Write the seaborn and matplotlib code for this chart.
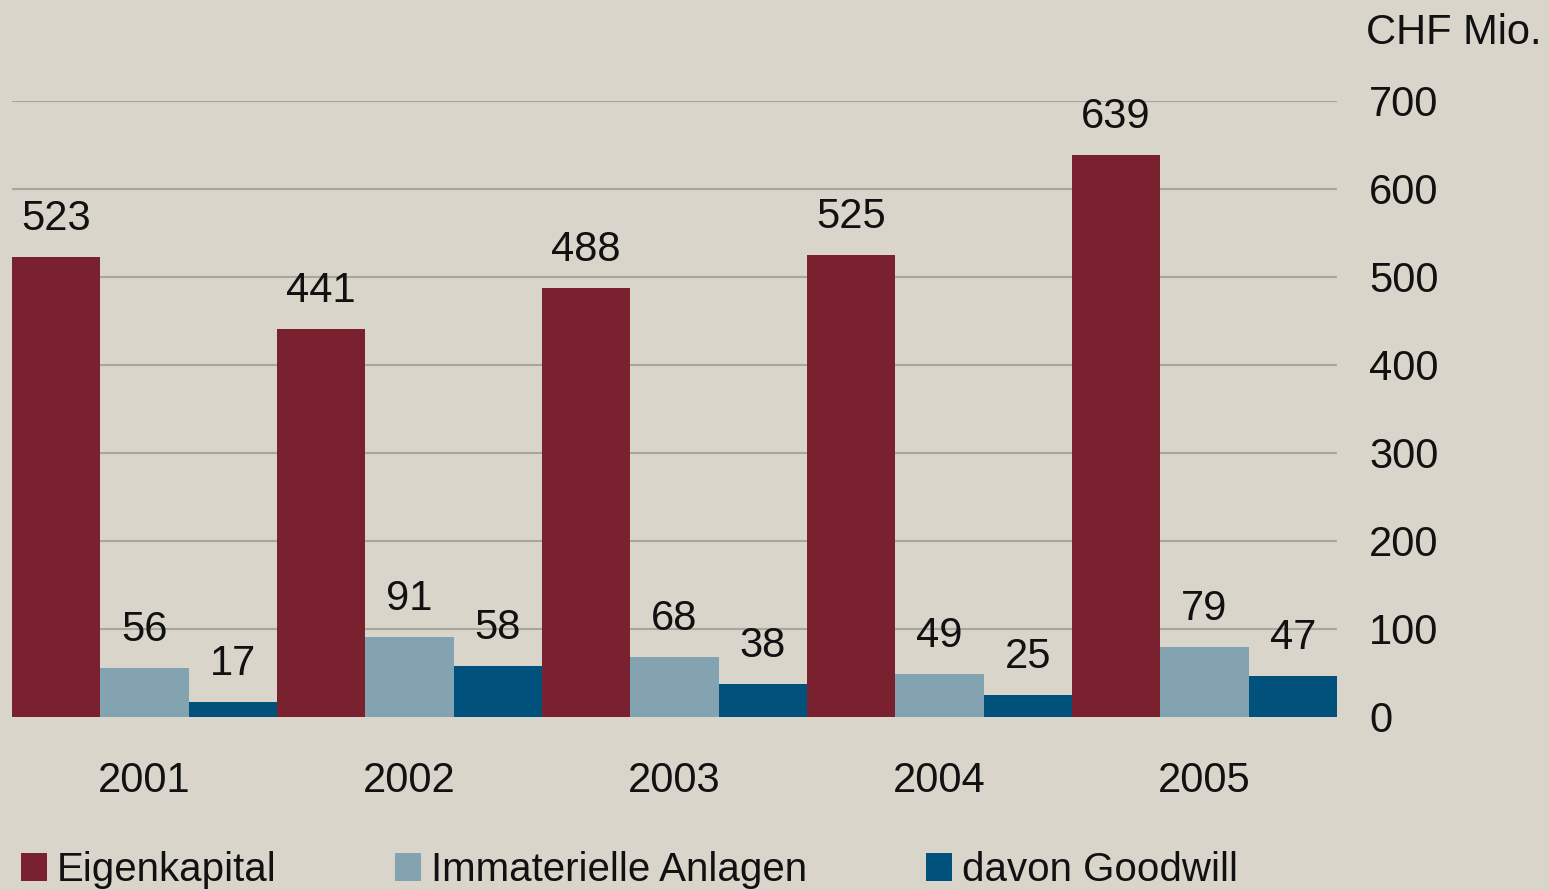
import matplotlib
matplotlib.use("Agg")
import matplotlib.pyplot as plt
import seaborn as sns
import pandas as pd

years = ["2001", "2002", "2003", "2004", "2005"]
eigenkapital = [523, 441, 488, 525, 639]
immaterielle = [56, 91, 68, 49, 79]
goodwill = [17, 58, 38, 25, 47]
series_names = ["Eigenkapital", "Immaterielle Anlagen", "davon Goodwill"]
y_ticks = [0, 100, 200, 300, 400, 500, 600, 700]
unit_label = "CHF Mio."

colors = ["#7A2130", "#84A3B0", "#00527C"]
bg = "#D9D5CB"
grid_color = "#A9A69C"

df = pd.DataFrame({
    "Jahr": years * 3,
    "Wert": eigenkapital + immaterielle + goodwill,
    "Serie": [s for s in series_names for _ in years],
})

sns.set_theme(style="white")
plt.rcParams["font.family"] = ["Liberation Sans", "DejaVu Sans"]

W, H = 1549, 890
fs = 30
fig = plt.figure(figsize=(W / 100, H / 100), dpi=100, facecolor=bg)
ax = fig.add_axes([12 / W, 1 - 717 / H, (1337 - 12) / W, (717 - 101) / H])
ax.set_facecolor(bg)

sns.barplot(data=df, x="Jahr", y="Wert", hue="Serie", order=years,
            hue_order=series_names, palette=colors, width=1.0, gap=0,
            saturation=1, linewidth=0, ax=ax, legend=False, zorder=3)

for cont in ax.containers:
    ax.bar_label(cont, fmt="%d", padding=13, fontsize=fs, color="#111111")

ax.set_xlim(-0.5, 4.5)
ax.set_ylim(0, 700)
ax.set_yticks(y_ticks)
ax.yaxis.tick_right()
ax.tick_params(axis="y", length=0, pad=23, labelsize=fs, labelcolor="#111111")
ax.tick_params(axis="x", length=0, pad=32, labelsize=fs, labelcolor="#111111")
for lab in ax.get_yticklabels():
    lab.set_horizontalalignment("left")
ax.set_xlabel("")
ax.set_ylabel("")
ax.grid(axis="y", color=grid_color, linewidth=1.5, zorder=0)
ax.set_axisbelow(True)
for s in ax.spines.values():
    s.set_visible(False)
ax.axhline(0, color=grid_color, linewidth=1.5, zorder=2)

fig.text(1366 / W, 1 - 33 / H, unit_label, fontsize=fs, color="#111111",
         ha="left", va="center")

handles = [plt.Rectangle((0, 0), 1, 1, facecolor=c, edgecolor="none") for c in colors]
fig.legend(handles, series_names, loc="center left",
           bbox_to_anchor=(21 / W, 1 - 870 / H), ncol=3, frameon=False,
           fontsize=29, handlelength=0.64, handleheight=0.68,
           handletextpad=0.25, columnspacing=2.95, borderpad=0,
           borderaxespad=0, labelcolor="#111111")

fig.savefig("out.png", dpi=100, facecolor=bg)
